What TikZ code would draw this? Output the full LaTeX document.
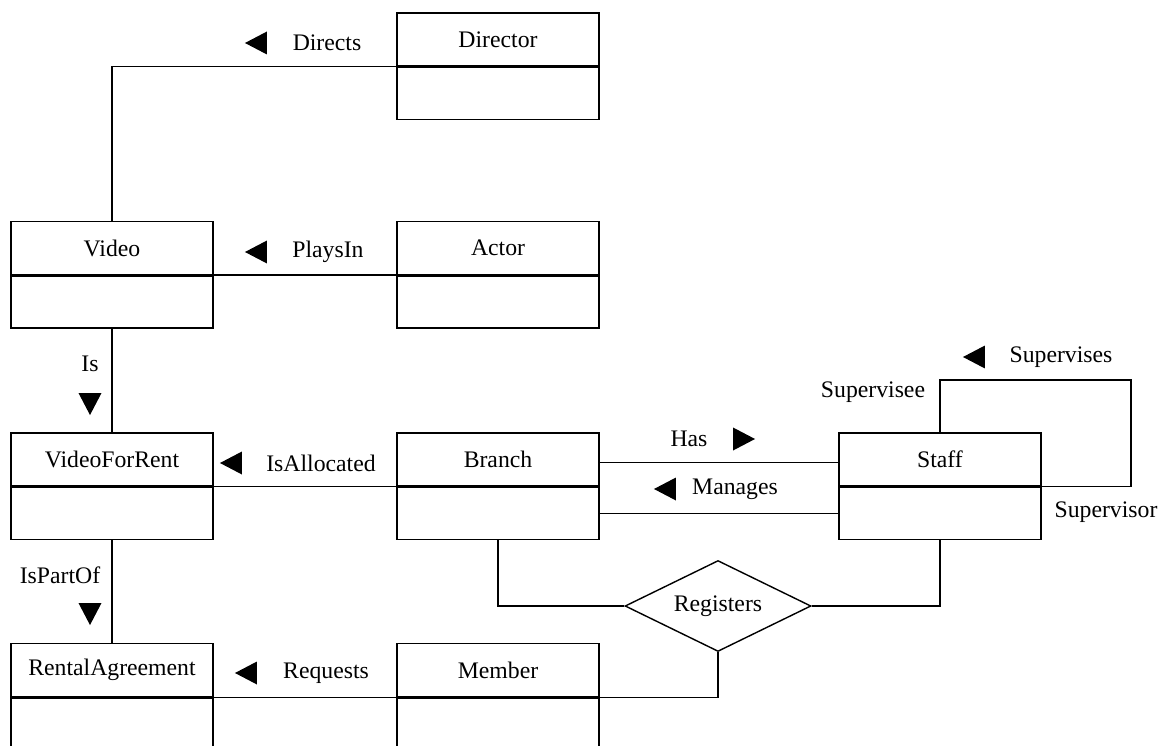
\documentclass[tikz,border=0pt]{standalone}
\usepackage{fontspec}
\setmainfont{Liberation Serif}
\usepackage{tikz}
\usetikzlibrary{positioning,shapes.geometric}

\begin{document}
\begin{tikzpicture}[x=0.02cm, y=-0.02cm,
        entity/.style={draw, line width=0.8pt, minimum width=4.04cm, minimum height=1.06cm, inner sep=0pt, font=\fontsize{13.5}{16}\selectfont},
        entbody/.style={draw, line width=0.8pt, minimum width=4.04cm, minimum height=1.04cm, inner sep=0pt},
        assoc/.style={draw, diamond, line width=0.8pt, aspect=2, minimum width=3.72cm, minimum height=1.82cm, inner sep=0pt, font=\fontsize{13.5}{16}\selectfont},
        link/.style={line width=0.8pt},
        dirmark/.style={isosceles triangle, isosceles triangle stretches, fill=black, inner sep=0pt, minimum width=0.46cm, minimum height=0.44cm},
        rellabel/.style={font=\fontsize{13.5}{16}\selectfont, inner sep=1pt}
      ]
      \useasboundingbox (0,0) rectangle (1162,746);

      % classes
      \node[entity] (director) at (498,39.5) {Director};
      \node[entbody, below=0pt of director] (director-b) {};
      \node[entity] (video) at (112,248) {Video};
      \node[entbody, below=0pt of video] (video-b) {};
      \node[entity] (actor) at (498,248) {Actor};
      \node[entbody, below=0pt of actor] (actor-b) {};
      \node[entity] (vfr) at (112,459.5) {VideoForRent};
      \node[entbody, below=0pt of vfr] (vfr-b) {};
      \node[entity] (branch) at (498,459.5) {Branch};
      \node[entbody, below=0pt of branch] (branch-b) {};
      \node[entity] (staff) at (940,459.5) {Staff};
      \node[entbody, below=0pt of staff] (staff-b) {};
      \node[entity] (rental) at (112,670) {RentalAgreement};
      \node[entbody, below=0pt of rental] (rental-b) {};
      \node[entity] (member) at (498,670) {Member};
      \node[entbody, below=0pt of member] (member-b) {};

      \node[assoc] (registers) at (718,606) {Registers};

      % associations
      \draw[link] (director.south west) -| (video.north);
      \draw[link] (actor.south west) -- (video.south east);
      \draw[link] (video-b.south) -- (vfr.north);
      \draw[link] (branch.south west) -- (vfr.south east);
      \draw[link] (vfr-b.south) -- (rental.north);
      \draw[link] (member.south west) -- (rental.south east);
      \draw[link] ([yshift=-0.06cm]branch.east) -- ([yshift=-0.06cm]staff.west);
      \draw[link] (branch-b.east) -- (staff-b.west);
      \coordinate (loopcorner) at (1131,380);
      \draw[link] (staff.north) |- (loopcorner) |- (staff.south east);
      \draw[link] (branch-b.south) |- (registers.west);
      \draw[link] (registers.east) -| (staff-b.south);
      \draw[link] (registers.south) |- (member.south east);

      % labels
      \node[dirmark, shape border rotate=180] (directs-m) at (260,43) {};
      \node[rellabel] (directs) at (327,43) {Directs};
      \node[dirmark, shape border rotate=180] (playsin-m) at (260,252) {};
      \node[rellabel] (playsin) at (328,252) {PlaysIn};
      \node[rellabel] (is) at (90,364) {Is};
      \node[dirmark, shape border rotate=270] (is-m) at (90,400) {};
      \node[dirmark, shape border rotate=180] (isallocated-m) at (235,463) {};
      \node[rellabel] (isallocated) at (321,463) {IsAllocated};
      \node[rellabel] (ispartof) at (60,575) {IsPartOf};
      \node[dirmark, shape border rotate=270] (ispartof-m) at (90,610) {};
      \node[dirmark, shape border rotate=180] (requests-m) at (250,673) {};
      \node[rellabel] (requests) at (326,673) {Requests};
      \node[rellabel] (has) at (689,439) {Has};
      \node[dirmark] (has-m) at (740,439) {};
      \node[dirmark, shape border rotate=180] (manages-m) at (669,489) {};
      \node[rellabel] (manages) at (735,489) {Manages};
      \node[dirmark, shape border rotate=180] (supervises-m) at (978,357) {};
      \node[rellabel] (supervises) at (1061,357) {Supervises};
      \node[rellabel] (supervisee) at (873,392) {Supervisee};
      \node[rellabel] (supervisor) at (1106,512) {Supervisor};
    \end{tikzpicture}
\end{document}
